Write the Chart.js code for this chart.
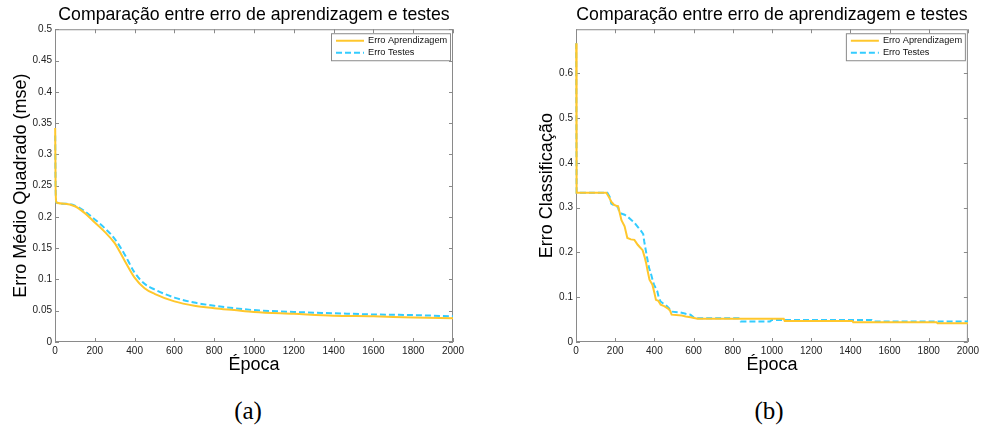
<!DOCTYPE html>
<html>
<head>
<meta charset="utf-8">
<script src="https://cdn.jsdelivr.net/npm/chart.js@4.4.1/dist/chart.umd.min.js"></script>
<style>
  body { margin: 0; background: #fff; width: 982px; height: 432px; position: relative; overflow: hidden; }
  .plot { position: absolute; top: 0; }
  #wrapA { left: 0; width: 470px; height: 380px; }
  #wrapB { left: 520px; width: 462px; height: 380px; }
  .sub { position: absolute; top: 397px; font-family: "Liberation Serif", serif; font-size: 25px; width: 60px; text-align: center; }
</style>
</head>
<body>
<div class="plot" id="wrapA"><canvas id="mseChart"></canvas></div>
<div class="plot" id="wrapB"><canvas id="classChart"></canvas></div>
<div class="sub" style="left:218px">(a)</div>
<div class="sub" style="left:739px">(b)</div>
<script>
// (a) mean squared error per epoch
var epochsA = [1, 3, 7, 50, 100, 150, 200, 250, 300, 350, 400, 450, 500, 600, 700, 800, 900, 1000, 1200, 1400, 1600, 1800, 2000];
var mseTrain = [0.342, 0.25, 0.223, 0.221, 0.217, 0.206, 0.191, 0.176, 0.158, 0.130, 0.103, 0.086, 0.077, 0.065, 0.058, 0.054, 0.051, 0.048, 0.045, 0.042, 0.041, 0.039, 0.038];
var mseTest = [0.33, 0.25, 0.223, 0.221, 0.218, 0.209, 0.196, 0.182, 0.165, 0.140, 0.111, 0.093, 0.084, 0.071, 0.063, 0.058, 0.054, 0.051, 0.048, 0.046, 0.044, 0.043, 0.041];

// (b) classification error per epoch
var epochsTrainB = [1, 3, 155, 170, 180, 195, 205, 215, 222, 232, 248, 262, 280, 298, 315, 325, 340, 350, 358, 366, 375, 390, 400, 408, 420, 432, 450, 468, 480, 488, 540, 560, 585, 620, 1060, 1065, 1410, 1415, 1840, 1845, 2000];
var classTrain = [0.667, 0.333, 0.333, 0.322, 0.313, 0.306, 0.304, 0.303, 0.29, 0.272, 0.258, 0.232, 0.229, 0.228, 0.217, 0.212, 0.205, 0.19, 0.176, 0.158, 0.139, 0.128, 0.11, 0.094, 0.092, 0.083, 0.08, 0.075, 0.07, 0.061, 0.059, 0.057, 0.055, 0.052, 0.052, 0.047, 0.047, 0.044, 0.044, 0.042, 0.042];
var epochsTestB = [1, 3, 160, 172, 180, 200, 214, 222, 248, 265, 281, 300, 315, 330, 343, 348, 356, 365, 373, 382, 390, 398, 415, 422, 432, 445, 457, 475, 483, 533, 560, 584, 600, 609, 830, 840, 990, 1000, 1510, 1520, 2000];
var classTest = [0.667, 0.333, 0.333, 0.324, 0.309, 0.303, 0.302, 0.288, 0.284, 0.279, 0.273, 0.265, 0.257, 0.249, 0.241, 0.225, 0.205, 0.183, 0.165, 0.153, 0.14, 0.128, 0.113, 0.1, 0.09, 0.086, 0.083, 0.075, 0.068, 0.066, 0.063, 0.061, 0.055, 0.053, 0.053, 0.046, 0.046, 0.049, 0.049, 0.046, 0.046];

var seriesNames = ['Erro Aprendizagem', 'Erro Testes'];
var xTicks = [0, 200, 400, 600, 800, 1000, 1200, 1400, 1600, 1800, 2000];
var yTicksA = [0, 0.05, 0.1, 0.15, 0.2, 0.25, 0.3, 0.35, 0.4, 0.45, 0.5];
var yTicksB = [0, 0.1, 0.2, 0.3, 0.4, 0.5, 0.6];

var titleText = 'Comparação entre erro de aprendizagem e testes';
var yellow = '#FFC72C';
var cyan = '#33CCFF';
var frameColor = '#8a8a8a';

Chart.defaults.font.family = '"Liberation Sans", Arial, sans-serif';
Chart.defaults.color = '#222';

function toPoints(xs, ys) {
    return xs.map(function (x, i) { return { x: x, y: ys[i] }; });
}

// matlab style box with inward ticks on all sides, drawn under the lines
var matlabBox = {
    id: 'matlabBox',
    beforeDatasetsDraw: function (chart) {
        var ctx = chart.ctx;
        var a = chart.chartArea;
        var xs = chart.scales.x, ys = chart.scales.y;
        ctx.save();
        ctx.strokeStyle = frameColor;
        ctx.lineWidth = 1;
        ctx.strokeRect(a.left + 0.5, a.top + 0.5, a.right - a.left - 1, a.bottom - a.top - 1);
        ctx.beginPath();
        xs.ticks.forEach(function (t) {
            var px = Math.round(xs.getPixelForValue(t.value)) + 0.5;
            ctx.moveTo(px, a.bottom); ctx.lineTo(px, a.bottom - 4);
            ctx.moveTo(px, a.top); ctx.lineTo(px, a.top + 4);
        });
        ys.ticks.forEach(function (t) {
            var py = Math.round(ys.getPixelForValue(t.value)) + 0.5;
            ctx.moveTo(a.left, py); ctx.lineTo(a.left + 4, py);
            ctx.moveTo(a.right, py); ctx.lineTo(a.right - 4, py);
        });
        ctx.stroke();
        ctx.restore();
    },
    // legend box inside the axes, top right
    afterDraw: function (chart) {
        var ctx = chart.ctx;
        var a = chart.chartArea;
        var w = 119, h = 27;
        var lx = a.right - 3 - w, ly = a.top + 4;
        ctx.save();
        ctx.fillStyle = '#fff';
        ctx.fillRect(lx, ly, w, h);
        ctx.strokeStyle = frameColor;
        ctx.lineWidth = 1;
        ctx.strokeRect(lx + 0.5, ly + 0.5, w, h);
        ctx.font = '9.2px "Liberation Sans", Arial, sans-serif';
        ctx.textBaseline = 'middle';
        chart.data.datasets.forEach(function (ds, i) {
            var ry = ly + 7.5 + i * 12;
            ctx.strokeStyle = ds.borderColor;
            ctx.lineWidth = 2;
            ctx.setLineDash(ds.borderDash || []);
            ctx.beginPath();
            ctx.moveTo(lx + 5, ry); ctx.lineTo(lx + 33, ry);
            ctx.stroke();
            ctx.setLineDash([]);
            ctx.fillStyle = '#111';
            ctx.fillText(ds.label, lx + 37, ry);
        });
        ctx.restore();
    }
};

function makeChart(id, datasets, yMax, yTicks, yTitle, yWidth, yTitlePad, rightPad) {
    return new Chart(document.getElementById(id), {
        type: 'line',
        data: { datasets: datasets },
        options: {
            responsive: true,
            maintainAspectRatio: false,
            animation: false,
            layout: { padding: { top: 0, right: rightPad, bottom: 0, left: 0 } },
            plugins: {
                legend: { display: false },
                tooltip: { enabled: false },
                title: {
                    display: true,
                    text: titleText,
                    fullSize: false,
                    color: '#000',
                    font: { size: 17.7, weight: 'normal' },
                    padding: { top: 4, bottom: 4 }
                }
            },
            scales: {
                x: {
                    type: 'linear',
                    min: 0,
                    max: 2000,
                    afterBuildTicks: function (axis) {
                        axis.ticks = xTicks.map(function (v) { return { value: v }; });
                    },
                    afterFit: function (axis) { axis.height = 38; },
                    grid: { display: false, drawTicks: false },
                    border: { display: false },
                    ticks: {
                        padding: 3,
                        maxRotation: 0,
                        autoSkip: false,
                        font: { size: 10 },
                        callback: function (v) { return String(v); }
                    },
                    title: {
                        display: true,
                        text: 'Época',
                        color: '#000',
                        font: { size: 18 },
                        padding: { top: 0, bottom: 4 }
                    }
                },
                y: {
                    min: 0,
                    max: yMax,
                    afterBuildTicks: function (axis) {
                        axis.ticks = yTicks.map(function (v) { return { value: v }; });
                    },
                    afterFit: function (axis) { axis.width = yWidth; },
                    grid: { display: false, drawTicks: false },
                    border: { display: false },
                    ticks: {
                        padding: 3,
                        autoSkip: false,
                        font: { size: 10 },
                        callback: function (v) { return String(+v.toFixed(2)); }
                    },
                    title: {
                        display: true,
                        text: yTitle,
                        color: '#000',
                        font: { size: 18 },
                        padding: { top: yTitlePad, bottom: 0 }
                    }
                }
            }
        },
        plugins: [matlabBox]
    });
}

makeChart('mseChart', [{
    label: seriesNames[0],
    data: toPoints(epochsA, mseTrain),
    borderColor: yellow,
    borderWidth: 2,
    pointRadius: 0,
    clip: 4,
    cubicInterpolationMode: 'monotone'
}, {
    label: seriesNames[1],
    data: toPoints(epochsA, mseTest),
    borderColor: cyan,
    borderWidth: 2,
    borderDash: [6, 3],
    pointRadius: 0,
    clip: 4,
    cubicInterpolationMode: 'monotone'
}], 0.5, yTicksA, 'Erro Médio Quadrado (mse)', 55, 10, 17);

makeChart('classChart', [{
    label: seriesNames[0],
    data: toPoints(epochsTrainB, classTrain),
    borderColor: yellow,
    borderWidth: 2,
    pointRadius: 0,
    clip: 4
}, {
    label: seriesNames[1],
    data: toPoints(epochsTestB, classTest),
    borderColor: cyan,
    borderWidth: 2,
    borderDash: [6, 3],
    pointRadius: 0,
    clip: 4
}], 0.698, yTicksB, 'Erro Classificação', 56, 16, 9);
</script>
</body>
</html>
